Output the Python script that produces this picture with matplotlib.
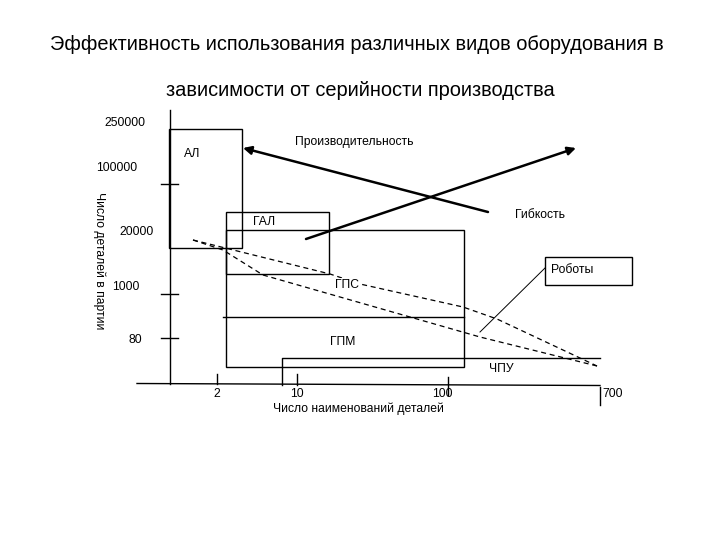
import matplotlib.pyplot as plt
from matplotlib.patches import Rectangle

plt.rcParams['font.family'] = ['Liberation Sans', 'DejaVu Sans']

# schematic drawn on a 720 x 540 canvas (y grows downwards)
title_lines = ["Эффективность использования различных видов оборудования в",
               "зависимости от серийности производства"]

y_tick_labels = ["250000", "100000", "20000", "1000", "80"]
y_label_x = [125, 117, 137, 126, 135]
y_label_y = [123, 168, 232, 287, 340]
y_tick_marks = [184, 294, 338]

x_tick_labels = ["2", "10", "100", "700"]
x_label_x = [217, 297, 442, 613]
x_tick_x = [217, 297, 448, 600]
x_tick_top = [374, 374, 377, 387]
x_tick_bot = [384, 385, 395, 405]

# equipment zones: (x0, y0, x1, y1)
zone_names = ["АЛ", "ГАЛ", "ГПС/ГПМ", "Роботы"]
zone_boxes = [(169, 129, 242, 248), (226, 212, 329, 274),
              (226, 230, 464, 367), (545, 257, 632, 285)]

zone_text = ["АЛ", "ГАЛ", "ГПС", "ГПМ", "ЧПУ", "Роботы"]
zone_text_x = [192, 264, 347, 343, 501, 572]
zone_text_y = [154, 222, 285, 342, 369, 270]

divider_x = [223, 464]
divider_y = [317, 317]
cnc_x = [282, 282, 600]
cnc_y = [385, 358, 358]

upper_x = [193, 330, 360, 463, 497, 597]
upper_y = [240, 274, 284, 307, 319, 366]
lower_x = [193, 223, 263, 480, 597]
lower_y = [240, 250, 275, 337, 366]

# trend arrows: (start, end)
arrow_names = ["Производительность", "Гибкость"]
arrow_start = [(488, 212), (306, 239)]
arrow_end = [(243, 148), (576, 148)]
arrow_label_x = [354, 540]
arrow_label_y = [142, 215]

robot_line_x = [545, 480]
robot_line_y = [268, 332]

fig = plt.figure(figsize=(7.2, 5.4), dpi=100)
ax = fig.add_axes([0, 0, 1, 1])
ax.set_xlim(0, 720)
ax.set_ylim(540, 0)
ax.axis("off")

for i, line in enumerate(title_lines):
    ax.text([357, 360][i], [44, 91][i], line, ha="center", va="center", fontsize=14.4)

fs = 8.7

# axes
ax.plot([170, 170], [110, 384], color="black", lw=1.0)
ax.plot([137, 600], [383.5, 385.5], color="black", lw=1.0)
for y in y_tick_marks:
    ax.plot([161, 178], [y, y], color="black", lw=1.0)
for lab, x, y in zip(y_tick_labels, y_label_x, y_label_y):
    ax.text(x, y, lab, ha="center", va="center", fontsize=fs)
for x, t, b in zip(x_tick_x, x_tick_top, x_tick_bot):
    ax.plot([x, x], [t, b], color="black", lw=1.0)
for lab, x in zip(x_tick_labels, x_label_x):
    ax.text(x, 394, lab, ha="center", va="center", fontsize=fs)
ax.text(358, 409, "Число наименований деталей", ha="center", va="center", fontsize=fs)
ax.text(99, 261, "Число деталей в партии", ha="center", va="center",
        rotation=-90, fontsize=fs)

# zones
for x0, y0, x1, y1 in zone_boxes:
    ax.add_patch(Rectangle((x0, y0), x1 - x0, y1 - y0, fill=False,
                           edgecolor="black", lw=1.0))
ax.plot(divider_x, divider_y, color="black", lw=1.0)
ax.plot(cnc_x, cnc_y, color="black", lw=1.0)

ax.plot(upper_x, upper_y, color="black", lw=0.9, ls=(0, (4, 3)))
ax.plot(lower_x, lower_y, color="black", lw=0.9, ls=(0, (4, 3)))
ax.plot(robot_line_x, robot_line_y, color="black", lw=0.7)

for lab, x, y in zip(zone_text, zone_text_x, zone_text_y):
    bg = dict(facecolor="white", edgecolor="none", pad=0.5) if lab == "ГПС" else None
    ax.text(x, y, lab, ha="center", va="center", fontsize=fs, bbox=bg)

for s, e in zip(arrow_start, arrow_end):
    ax.annotate("", xy=e, xytext=s,
                arrowprops=dict(arrowstyle="-|>", color="black", lw=1.8,
                                mutation_scale=12, shrinkA=0, shrinkB=0))
for lab, x, y in zip(arrow_names, arrow_label_x, arrow_label_y):
    ax.text(x, y, lab, ha="center", va="center", fontsize=fs)

fig.savefig("out.png", dpi=100)
